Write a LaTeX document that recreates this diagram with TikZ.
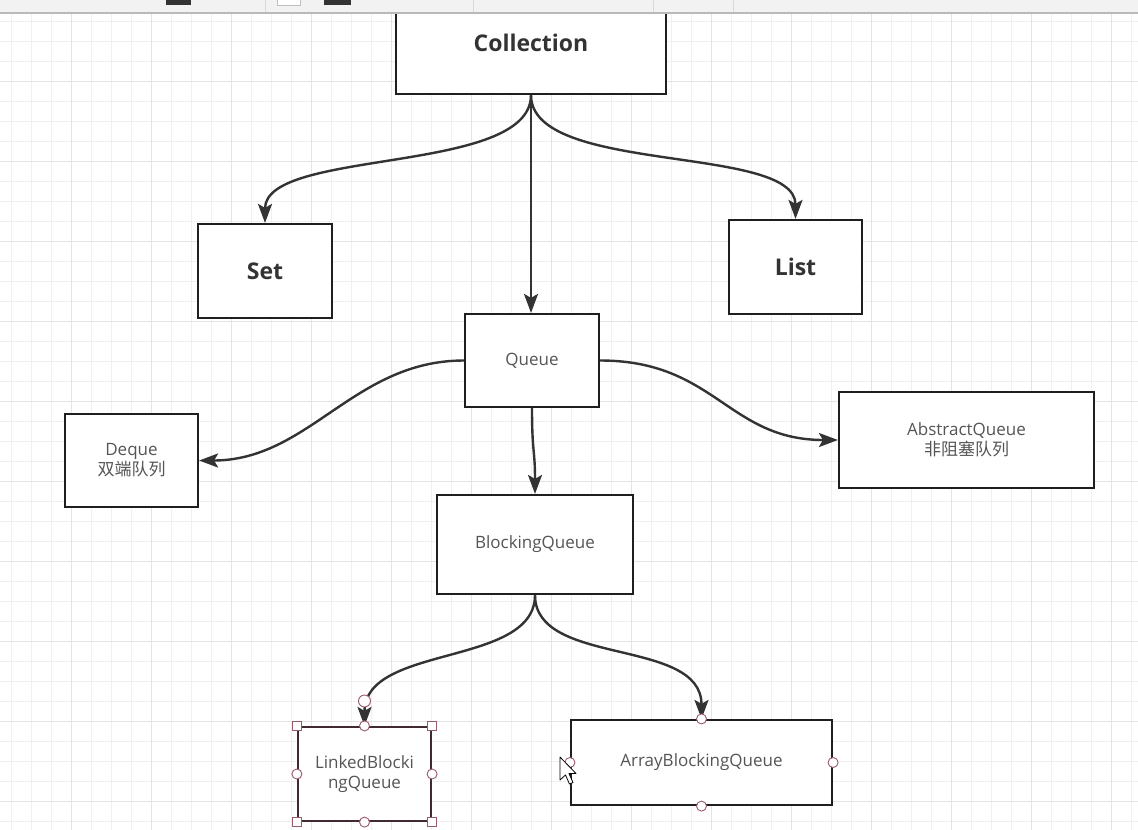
\documentclass[tikz,border=0pt]{standalone}
\usepackage{fontspec}
\setmainfont{Open Sans}
\newfontfamily\cjk{Noto Sans CJK SC}
\usetikzlibrary{arrows.meta}
\definecolor{gridminor}{HTML}{F0F0F0}
\definecolor{gridmajor}{HTML}{E4E4E4}
\definecolor{edgecol}{HTML}{333333}
\definecolor{labelcol}{HTML}{555555}
\definecolor{handlecol}{HTML}{9A5A6A}
\definecolor{selcol}{HTML}{3E2A30}
\definecolor{barcol}{HTML}{F2F2F2}

\tikzset{
  box/.style={draw=black!88, line width=2.2pt, fill=white, inner sep=0pt, align=center,
    text=labelcol, font=\fontsize{17}{20}\selectfont},
  boldbox/.style={box, text=black!80, font=\fontsize{23}{28}\selectfont\bfseries},
  link/.style={draw=edgecol, line width=2.4pt,
    -{Stealth[length=19pt,width=14pt,inset=4pt]}},
  sqhandle/.style={draw=handlecol, fill=white, line width=0.9pt, inner sep=0pt,
    minimum size=9pt, rectangle},
  cihandle/.style={draw=handlecol, fill=white, line width=0.9pt, inner sep=0pt,
    minimum size=10pt, circle},
}

\begin{document}
\begin{tikzpicture}[x=1pt, y=-1pt]
\useasboundingbox (0,0) rectangle (1138,830);
\fill[white] (0,0) rectangle (1138,830);

% canvas grid: 20px minor, 80px major
\foreach \x in {11.7,31.7,...,1131.7}
  \draw[gridminor, line width=1pt] (\x,13) -- (\x,830);
\foreach \y in {21.7,41.7,...,821.7}
  \draw[gridminor, line width=1pt] (0,\y) -- (1138,\y);
\foreach \x in {71.7,151.7,...,1111.7}
  \draw[gridmajor, line width=1.2pt] (\x,13) -- (\x,830);
\foreach \y in {81.7,161.7,...,801.7}
  \draw[gridmajor, line width=1.2pt] (0,\y) -- (1138,\y);

% nodes
\node[boldbox, minimum width=270pt, minimum height=102pt] (coll) at (531,43) {Collection};
\node[boldbox, minimum width=134pt, minimum height=94pt] (set) at (265,271) {Set};
\node[boldbox, minimum width=133pt, minimum height=94pt] (list) at (795.5,267) {List};
\node[box, minimum width=134pt, minimum height=93pt] (queue) at (532,360.5) {\raisebox{-2pt}{Queue}};
\node[box, minimum width=133pt, minimum height=93pt] (deque) at (131.5,460.5) {Deque\\{\cjk 双端队列}};
\node[box, minimum width=255pt, minimum height=96pt] (absq) at (966.5,440) {AbstractQueue\\{\cjk 非阻塞队列}};
\node[box, minimum width=196pt, minimum height=99pt] (blockq) at (535,544.5) {\raisebox{-2pt}{BlockingQueue}};
\node[box, draw=selcol, minimum width=133pt, minimum height=94pt] (linked) at (364.5,774) {LinkedBlocki\\ngQueue};
\node[box, minimum width=261pt, minimum height=85pt] (array) at (701.5,762.5) {\raisebox{-2pt}{ArrayBlockingQueue}};

% connectors
\draw[link] (coll.south) .. controls +(0,80) and +(0,-75) .. (set.north);
\draw[link] (coll.south) .. controls +(0,80) and +(0,-75) .. (list.north);
\draw[link] (coll.south) -- (coll.south |- queue.north);
\draw[link] (queue.west) .. controls +(-110,0) and +(110,0) .. (deque.east);
\draw[link] (queue.east) .. controls +(115,0) and +(-110,0) .. (absq.west);
\draw[link] (queue.south) .. controls +(0,45) and +(0,-45) .. (blockq.north);
\draw[link] (blockq.south) .. controls +(0,72) and +(0,-82) .. (linked.north);
\draw[link] (blockq.south) .. controls +(0,72) and +(0,-82) .. (array.north);

% selection handles
\foreach \a in {north west,north east,south west,south east}
  \node[sqhandle] at (linked.\a) {};
\foreach \a in {north,south,west,east}
  \node[cihandle] at (linked.\a) {};
\node[cihandle, minimum size=12pt] (rot) at (364.5,701) {};
\foreach \a in {north,south,west,east}
  \node[cihandle] at (array.\a) {};

% mouse pointer
\draw[black, fill=white, line width=0.8pt, line join=round]
  (560,757) -- (560,780) -- (565.5,775) -- (569.5,784) -- (573,782.5)
  -- (569,773.5) -- (576,773.5) -- cycle;

% toolbar strip along the top edge
\fill[barcol] (0,0) rectangle (1138,13);
\draw[gray!55, line width=1.5pt] (0,13) -- (1138,13);
\foreach \x in {265,473,653,733}
  \draw[gray!30, line width=1pt] (\x,0) -- (\x,12);
\fill[black!80] (166,0) rectangle (191,4.5);
\fill[white] (277,0) rectangle (300,5);
\draw[gray!50, line width=0.6pt] (277,0) -- (277,5) -- (300,5) -- (300,0);
\fill[black!80] (324,0) rectangle (351,4.5);
\end{tikzpicture}
\end{document}
